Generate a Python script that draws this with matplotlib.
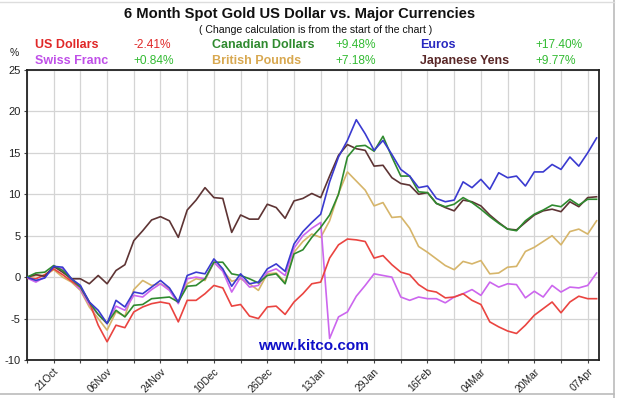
import matplotlib
matplotlib.use("Agg")
import matplotlib.pyplot as plt
import numpy as np
from matplotlib.lines import Line2D

# ---- data (percent change, sampled every 2 trading days) ----
date_labels = ["21Oct", "06Nov", "24Nov", "10Dec", "26Dec", "13Jan",
               "29Jan", "16Feb", "04Mar", "20Mar", "07Apr"]

usd = [-0.1, -0.2, 0.3, 1.0, 0.3, -0.5, -1.2, -3.0, -5.8, -7.8, -5.8, -6.1,
       -4.2, -3.6, -3.2, -3.0, -3.2, -5.4, -2.8, -2.8, -2.0, -1.0, -1.3,
       -3.5, -3.3, -4.7, -5.0, -3.6, -3.5, -4.5, -3.0, -2.0, -0.8, -0.6,
       2.3, 3.9, 4.6, 4.5, 4.3, 2.3, 2.6, 1.5, 0.6, 0.3, -0.9,
       -1.6, -1.8, -2.5, -2.4, -2.0, -2.8, -3.3, -5.4, -6.0, -6.5,
       -6.8, -5.8, -4.6, -3.8, -3.0, -4.3, -3.0, -2.3, -2.6, -2.6]

cad = [0.0, 0.5, 0.6, 1.4, 0.8, -0.2, -1.2, -3.0, -4.5, -5.6, -4.0, -4.8,
       -3.4, -3.3, -2.6, -2.5, -2.4, -3.0, -1.1, -1.0, -0.2, 1.8, 1.8,
       0.4, 0.2, -0.2, -0.7, 0.2, 0.4, -0.8, 2.8, 3.3, 4.8, 6.0,
       7.5, 10.0, 14.5, 15.8, 15.9, 15.2, 17.0, 14.5, 12.2, 12.2, 10.3,
       10.2, 8.9, 8.5, 8.8, 9.6, 9.0, 8.2, 7.3, 6.5, 5.8,
       5.6, 6.8, 7.6, 8.1, 8.7, 8.5, 9.4, 8.7, 9.4, 9.4]

eur = [0.0, -0.4, -0.1, 1.3, 1.2, -0.2, -1.0, -3.0, -4.0, -5.6, -2.8, -3.6,
       -1.8, -2.0, -1.2, -0.4, -1.3, -3.0, 0.2, 0.6, 0.4, 2.2, 1.0,
       -1.1, 0.4, -0.8, -0.6, 1.0, 1.6, 0.7, 4.0, 5.5, 6.6, 7.6,
       11.5, 14.5, 16.5, 19.0, 17.3, 15.3, 16.5, 14.8, 13.0, 12.2, 10.8,
       11.0, 9.5, 9.1, 9.3, 11.5, 10.8, 11.8, 10.6, 12.6, 12.0,
       12.2, 11.0, 12.7, 12.7, 13.6, 13.0, 14.5, 13.4, 15.0, 16.8]

chf = [-0.1, -0.6, 0.0, 1.2, 1.0, -0.4, -1.5, -3.3, -4.5, -5.6, -3.5, -4.0,
       -2.2, -2.4, -1.5, -0.8, -1.6, -3.2, -0.2, 0.0, -0.2, 1.8, 0.7,
       -1.8, 0.0, -1.2, -1.0, 0.6, 1.0, 0.2, 3.5, 5.0, 5.9, 6.6,
       -7.4, -4.8, -4.2, -2.3, -1.0, 0.4, 0.2, 0.0, -2.4, -2.8, -2.4,
       -2.6, -2.6, -3.1, -2.4, -2.0, -1.5, -2.2, -0.6, -1.2, -0.8,
       -0.9, -2.5, -1.7, -2.4, -1.0, -1.8, -1.2, -1.3, -1.0, 0.5]

gbp = [-0.1, 0.2, 0.2, 0.9, 0.0, -0.6, -1.6, -3.6, -5.0, -6.4, -4.2, -4.7,
       -1.5, -0.4, -1.0, -0.8, -1.4, -3.0, -0.8, -0.2, -0.4, 1.8, 0.8,
       -0.5, -0.2, -0.8, -1.6, 0.4, 0.5, -0.6, 3.0, 4.3, 5.2, 4.8,
       6.8, 10.1, 12.7, 11.6, 10.5, 8.6, 9.0, 7.2, 7.3, 5.9, 3.7,
       3.0, 2.2, 1.4, 0.9, 1.9, 1.6, 2.0, 0.4, 0.5, 1.2,
       1.3, 3.1, 3.6, 4.3, 5.0, 3.9, 5.5, 5.8, 5.2, 6.8]

jpy = [0.0, 0.3, 0.1, 1.3, 0.6, -0.2, -0.2, -0.8, 0.2, -0.8, 0.8, 1.5,
       4.4, 5.6, 6.9, 7.3, 6.8, 4.8, 8.1, 9.3, 10.8, 9.6, 9.5,
       5.4, 7.5, 7.0, 7.0, 8.8, 8.4, 7.1, 9.2, 9.5, 10.1, 9.6,
       12.2, 14.7, 16.0, 15.5, 15.3, 13.4, 13.5, 12.0, 11.3, 11.1, 10.0,
       10.2, 8.9, 8.4, 8.0, 9.3, 9.1, 8.6, 7.5, 6.6, 5.8,
       5.7, 6.6, 7.5, 8.0, 8.2, 7.9, 9.1, 8.5, 9.6, 9.7]

names = ["US Dollars", "Canadian Dollars", "Euros",
         "Swiss Franc", "British Pounds", "Japanese Yens"]
changes = ["-2.41%", "+9.48%", "+17.40%", "+0.84%", "+7.18%", "+9.77%"]

line_colors = {"usd": "#ea4440", "cad": "#2f8a2f", "eur": "#3a3ad0",
               "chf": "#cc66ee", "gbp": "#d6b56a", "jpy": "#5e3434"}
label_colors = ["#e02828", "#2f8a2f", "#2828c0", "#c050e8", "#d8a850", "#5a2828"]
pos_green = "#33bb33"
FAM = ["Liberation Sans", "DejaVu Sans"]

# ---- figure ----
W, H = 620, 398
fig = plt.figure(figsize=(W / 100, H / 100), dpi=100)
fig.patch.set_facecolor("white")

L, R, T, B = 27, 599, 70, 360
ax = fig.add_axes([L / W, 1 - B / H, (R - L) / W, (B - T) / H])

x = np.arange(len(usd))
series = [("gbp", gbp), ("chf", chf), ("usd", usd), ("jpy", jpy), ("cad", cad), ("eur", eur)]
for key, vals in series:
    ax.plot(x, vals, color=line_colors[key], lw=1.2, solid_joinstyle="round", zorder=3)

ax.set_xlim(0, 64.27)
ax.set_ylim(-10, 25)
ax.set_yticks(np.arange(-10, 26, 5))
ax.set_yticklabels([str(v) for v in range(-10, 26, 5)], fontsize=8,
                   family=FAM, color="#222222")

grid_pos = np.arange(0, 64, 3)
ax.set_xticks(grid_pos)
labels = []
k = 0
for i, p in enumerate(grid_pos):
    if i % 2 == 1:
        labels.append(date_labels[k]); k += 1
    else:
        labels.append("")
ax.set_xticklabels(labels, rotation=45, ha="right", va="top", rotation_mode="anchor",
                   fontsize=7.4, family=FAM, color="#222222")
ax.tick_params(axis="both", length=2.5, width=0.8, color="#444444", pad=2)
ax.grid(True, color="#d4d4d4", lw=0.9, zorder=0)
for s in ax.spines.values():
    s.set_color("#222222")
    s.set_linewidth(1.3)

ax.text(0.5, 0.025, "www.kitco.com", transform=ax.transAxes, ha="center", va="bottom",
        fontsize=11, fontweight="bold", color="#1010c8", family=FAM, zorder=5)

# ---- titles ----
fig.text(300 / W, 1 - 14 / H, "6 Month Spot Gold US Dollar vs. Major Currencies",
         ha="center", va="center", fontsize=10.6, fontweight="bold",
         family=FAM, color="#111111")
fig.text(316 / W, 1 - 30 / H, "( Change calculation is from the start of the chart )",
         ha="center", va="center", fontsize=7.6, family=FAM, color="#111111")

# ---- legend block ----
name_x = [35, 212, 420]
chg_x = [133, 335, 535]
row_y = [45, 61]
for idx, (nm, ch) in enumerate(zip(names, changes)):
    r, c = divmod(idx, 3)
    fig.text(name_x[c] / W, 1 - row_y[r] / H, nm, ha="left", va="center",
             fontsize=9, fontweight="bold", color=label_colors[idx], family=FAM)
    fig.text(chg_x[c] / W, 1 - row_y[r] / H, ch, ha="left", va="center",
             fontsize=8.6, color=(label_colors[0] if ch.startswith("-") else pos_green),
             family=FAM)

fig.text(14 / W, 1 - 53 / H, "%", ha="center", va="center", fontsize=7.5,
         family=FAM, color="#222222")

# outer frame
fig.add_artist(Line2D([614 / W, 614 / W], [0, 1], color="#bbbbbb", lw=1.2, transform=fig.transFigure))
fig.add_artist(Line2D([0, 614 / W], [1 - 394 / H, 1 - 394 / H], color="#bbbbbb", lw=1.2, transform=fig.transFigure))
fig.add_artist(Line2D([0, 614 / W], [1 - 1.5 / H, 1 - 1.5 / H], color="#dddddd", lw=1.0, transform=fig.transFigure))

fig.savefig("out.png", dpi=100, facecolor="white")
